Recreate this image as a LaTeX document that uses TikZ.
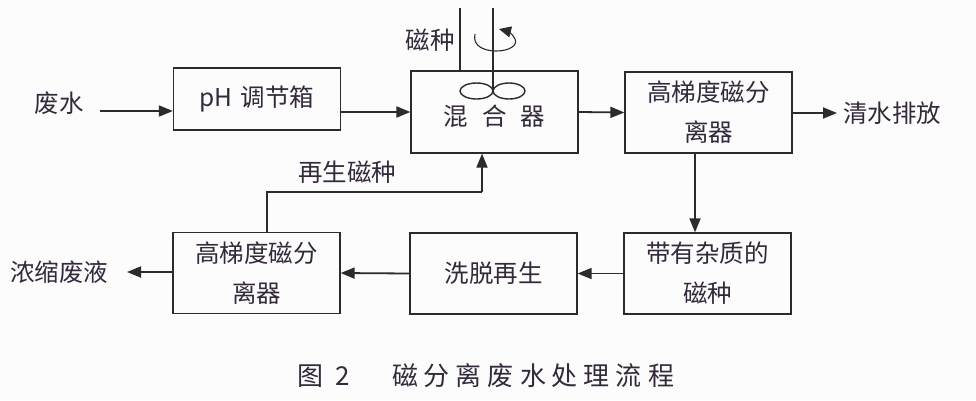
\documentclass[tikz,border=0pt]{standalone}
\usepackage{fontspec}
\setmainfont{Noto Sans CJK SC}
\usetikzlibrary{arrows.meta,calc}
\definecolor{linec}{HTML}{2B2B2B}
\definecolor{txtc}{HTML}{33293A}
\definecolor{bgc}{HTML}{FCFCFC}
\begin{document}
\begin{tikzpicture}[x=1pt,y=-1pt,
  box/.style={draw=linec, line width=1.3pt, inner sep=0pt, minimum width=167pt, minimum height=81pt, align=center, font=\fontsize{24.5}{40}\selectfont, text=txtc},
  lbl/.style={inner sep=0pt, font=\fontsize{24.5}{28}\selectfont, text=txtc},
  arr/.style={draw=linec, line width=1.8pt, -{Triangle[length=14pt,width=11pt]}},
  ln/.style={draw=linec, line width=1.4pt}]
\fill[bgc] (0,0) rectangle (976,400);
\useasboundingbox (0,0) rectangle (976,400);

% boxes
\node[box, minimum height=62pt] (ph) at (257,99) {pH\hspace{8pt}调节箱};
\node[box, minimum height=82pt] (mix) at (494.5,112) {};
\node[lbl] (mixt) at (494.5,116) {混\hspace{14pt}合\hspace{14pt}器};
\node[box] (hg) at (708.5,112.5) {高梯度磁分\\离器};
\node[box] (imp) at (707.5,273.5) {带有杂质的\\磁种};
\node[box] (wash) at (493.5,273.5) {洗脱再生};
\node[box] (lhg) at (256.5,273) {高梯度磁分\\离器};

% labels
\node[lbl] (water) at (59,103) {废水};
\node[lbl] (clear) at (892,113) {清水排放};
\node[lbl] (conc) at (59,272) {浓缩废液};
\node[lbl] (seed) at (430,40) {磁种};
\node[lbl] (regen) at (347,172) {再生磁种};

% main flow
\coordinate (w0) at (100,111);
\draw[arr] (w0) -- (ph.west |- w0);
\draw[arr] (ph.east |- mix.west) -- (mix.west);
\draw[arr] (mix.east) -- (hg.west);
\coordinate (c0) at (837,113);
\draw[arr] (hg.east |- c0) -- (c0);
\coordinate (d0) at (695,200);
\draw[arr] (hg.south -| d0) -- (imp.north -| d0);
\draw[arr] (imp.west) -- (wash.east);
\draw[arr] (wash.west) -- (lhg.east);
\coordinate (k0) at (127,272);
\draw[arr] (lhg.west |- k0) -- (k0);

% regeneration loop
\coordinate (rx) at (267,192);
\coordinate (ry) at (482,192);
\draw[ln] (lhg.north -| rx) -- (rx) -- (ry);
\draw[arr] (ry) -- (mix.south -| ry);

% mixer feed pipe and stirrer
\coordinate (p0) at (460,8);
\draw[ln] (p0) -- (mix.north -| p0);
\coordinate (s0) at (493,8);
\coordinate (s1) at (493,91);
\draw[ln] (s0) -- (s1);
\draw[ln] ($(s1)+(-16.5,0)$) ellipse [x radius=16.5, y radius=8];
\draw[ln] ($(s1)+(16,0)$) ellipse [x radius=16, y radius=8];
\draw[draw=linec, line width=1.1pt, -{Triangle[length=12pt,width=11pt]}]
  (475,34) .. controls (472,47) and (486,51) .. (496,51)
  .. controls (510,51) and (518,45) .. (515,39)
  .. controls (513,34) and (507,31) .. (499,29);

% caption
\node[lbl, font=\fontsize{26}{30}\selectfont] (fig) at (310,376) {图};
\node[lbl, font=\fontsize{26}{30}\selectfont] (fign) at (343,376) {2};
\node[lbl, font=\fontsize{26}{30}\selectfont] (cap) at (533,376) {磁\kern6pt 分\kern6pt 离\kern6pt 废\kern6pt 水\kern6pt 处\kern6pt 理\kern6pt 流\kern6pt 程};
\end{tikzpicture}
\end{document}
